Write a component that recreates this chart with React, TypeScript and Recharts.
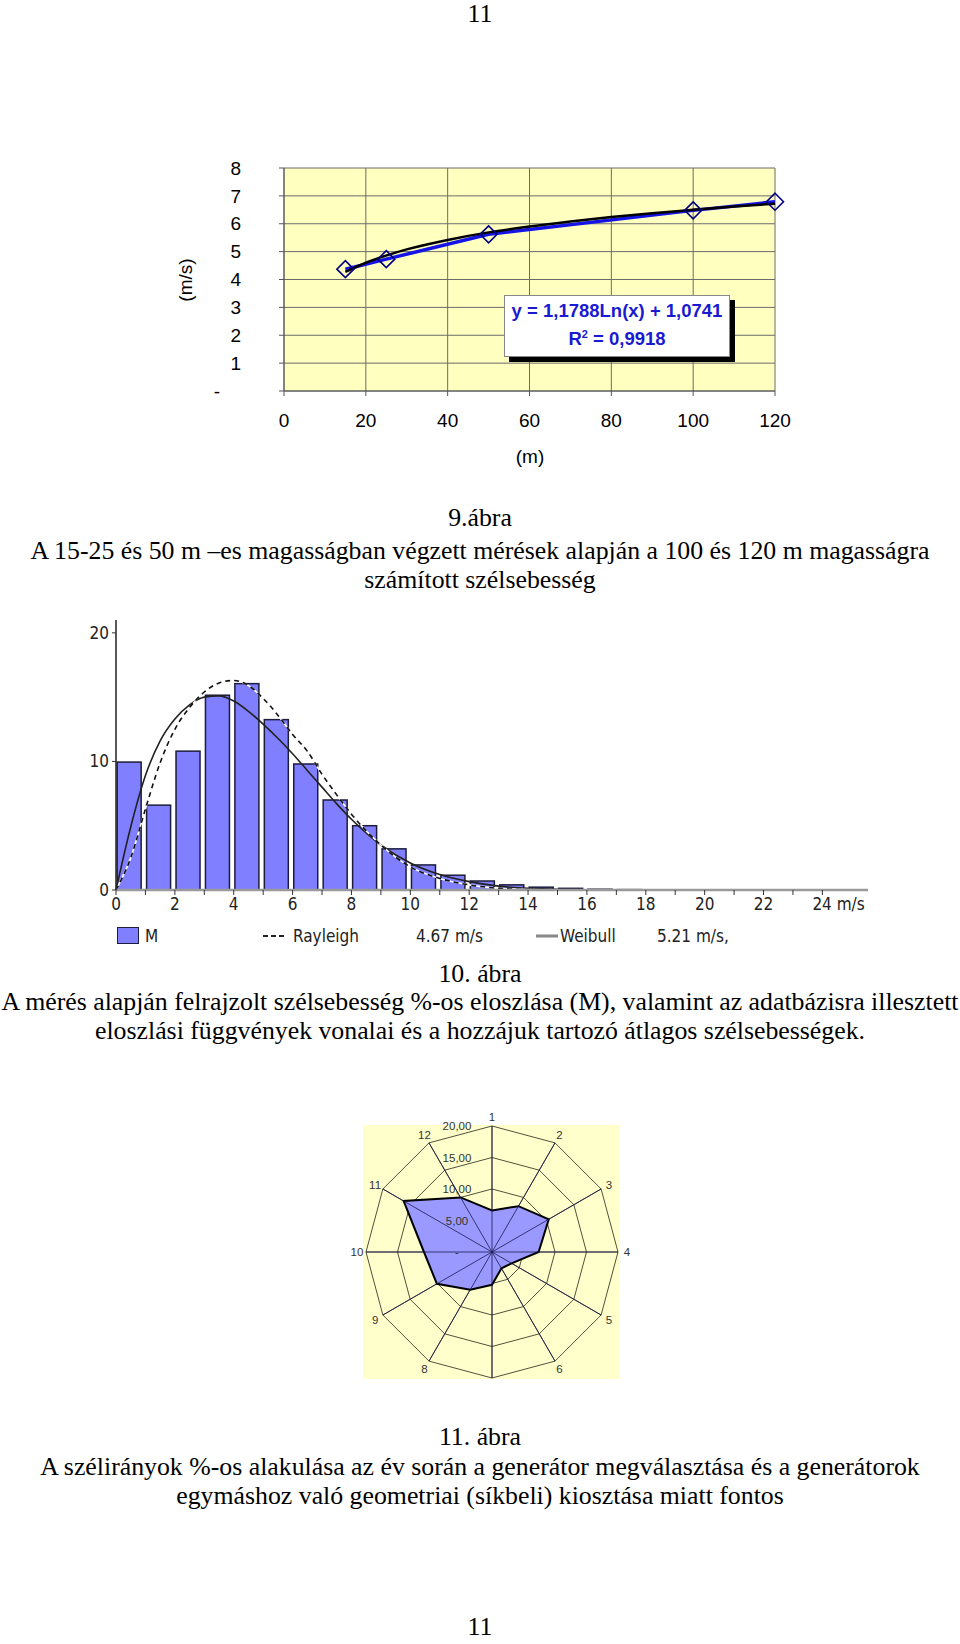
import React from 'react';
import {
  LineChart,
  Line,
  XAxis,
  YAxis,
  CartesianGrid,
  ComposedChart,
  Bar,
  RadarChart,
  Radar,
  PolarGrid,
  PolarAngleAxis,
  PolarRadiusAxis,
} from 'recharts';

// 9. ábra – wind speed vs. height
const heights = [15, 25, 50, 100, 120];
const speeds = [4.37, 4.73, 5.62, 6.48, 6.79];
const trendHeights = [15, 20, 30, 40, 50, 60, 70, 80, 90, 100, 110, 120];
const trendSpeeds = [4.27, 4.6, 5.08, 5.42, 5.69, 5.9, 6.08, 6.24, 6.38, 6.5, 6.62, 6.72];
const heightTicks = [0, 20, 40, 60, 80, 100, 120];
const speedTicks = [0, 1, 2, 3, 4, 5, 6, 7, 8];

// 10. ábra – speed distribution (%)
const binStarts = [0, 1, 2, 3, 4, 5, 6, 7, 8, 9, 10, 11, 12, 13, 14, 15, 16, 17];
const measuredShare = [9.95, 6.6, 10.8, 15.15, 16.05, 13.25, 9.8, 7.0, 5.0, 3.2, 1.95, 1.15, 0.7, 0.4, 0.22, 0.13, 0.06, 0.03];
const curveSpeeds = [0, 0.5, 1, 1.5, 2, 2.5, 3, 3.5, 4, 4.5, 5, 5.5, 6, 6.5, 7, 7.5, 8, 9, 10, 11, 12, 13, 14, 15, 16, 18, 20, 22, 24];
const rayleighShare = [0, 2.5, 6.3, 9.9, 12.5, 14.2, 15.4, 16.1, 16.3, 15.9, 14.9, 13.6, 12.1, 10.8, 9.0, 7.4, 5.9, 3.5, 1.8, 0.9, 0.4, 0.13, 0.03, 0, 0, 0, 0, 0, 0];
const weibullShare = [0, 4.9, 8.9, 11.6, 13.3, 14.4, 15.0, 15.1, 14.7, 13.9, 12.9, 11.8, 10.6, 9.3, 8.0, 6.7, 5.5, 3.5, 2.1, 1.2, 0.65, 0.3, 0.13, 0.05, 0.02, 0, 0, 0, 0];
const distXTicks = [0, 1, 2, 3, 4, 5, 6, 7, 8, 9, 10, 11, 12, 13, 14, 15, 16, 17, 18, 19, 20, 21, 22, 23, 24];
const distYTicks = [0, 10, 20];

// 11. ábra – wind direction share (%)
const directions = ['1', '2', '3', '4', '5', '6', '7', '8', '9', '10', '11', '12'];
const directionShare = [6.6, 8.4, 10.4, 7.4, 3.6, 3.0, 5.2, 6.9, 10.1, 10.8, 16.2, 10.0];

const SANS = '"Liberation Sans", Arial, sans-serif';
const NARROW = '"Liberation Sans Narrow", "DejaVu Sans Condensed", "Liberation Sans", sans-serif';
const SERIF = '"Liberation Serif", "Times New Roman", serif';

const measured = heights.map((x, i) => ({ x, y: speeds[i] }));
const trend = trendHeights.map((x, i) => ({ x, y: trendSpeeds[i] }));

const distBars = binStarts.map((s, i) => ({ x: s + 0.45, share: measuredShare[i] }));
const rayleighCurve = curveSpeeds.map((x, i) => ({ x, y: rayleighShare[i] }));
const weibullCurve = curveSpeeds.map((x, i) => ({ x, y: weibullShare[i] }));

const windRose = directions.map((dir, i) => ({ dir, share: directionShare[i] }));

const Diamond = (props: any) => {
  const { cx, cy, index } = props;
  if (cx == null || cy == null) return null;
  const r = 8.5;
  return (
    <path
      key={`dia-${index}`}
      d={`M${cx},${cy - r}L${cx + r},${cy}L${cx},${cy + r}L${cx - r},${cy}Z`}
      fill="none"
      stroke="#000080"
      strokeWidth={1.6}
    />
  );
};

// bar drawn 24px wide around the bin centre given by the scale
const BinBar = (props: any) => {
  const { x, y, width, height } = props;
  if (height == null || height <= 0) return <g />;
  const c = x + width / 2;
  return <rect x={c - 12} y={y} width={24} height={height} fill="#7F7FFF" stroke="#1c1c3c" strokeWidth={1.5} />;
};

const SpeedTick = (props: any) => {
  const { x, y, payload } = props;
  const v = payload.value;
  return (
    <text x={v === 0 ? x - 21 : x} y={y} dy="0.35em" textAnchor="end" fontSize={19} fontFamily={SANS} fill="#000">
      {v === 0 ? '-' : v}
    </text>
  );
};

const DistTick = (props: any) => {
  const { x, y, payload } = props;
  const v = payload.value;
  if (v % 2 !== 0) return <g />;
  if (v === 24) {
    return (
      <text x={x - 10} y={y} dy="0.71em" textAnchor="start" fontSize={17} fontFamily={NARROW} fill="#222">
        24 m/s
      </text>
    );
  }
  return (
    <text x={x} y={y} dy="0.71em" textAnchor="middle" fontSize={17} fontFamily={NARROW} fill="#222">
      {v}
    </text>
  );
};

const RadiusTick = (props: any) => {
  const { x, y, payload } = props;
  const v = payload.value;
  const label = v === 0 ? '-' : v.toFixed(2).replace('.', ',');
  return (
    <text x={x - 35} y={y} dy="0.35em" textAnchor="middle" fontSize={11.5} fontFamily={SANS} fill="#333">
      {label}
    </text>
  );
};

const DirTick = (props: any) => {
  const { x, y, payload } = props;
  // direction 7 has no label in the original figure
  if (payload.value === '7') return <g />;
  const cx = props.cx ?? 150;
  const cy = props.cy ?? 150;
  const dx = x - cx;
  const dy = y - cy;
  const d = Math.hypot(dx, dy) || 1;
  const r = 135;
  return (
    <text x={cx + (dx / d) * r} y={cy + (dy / d) * r} dy="0.35em" textAnchor="middle" fontSize={11.5} fontFamily={SANS} fill="#333">
      {payload.value}
    </text>
  );
};

const Caption = ({ center, children }: { center: number; children: React.ReactNode }) => (
  <div
    style={{
      position: 'absolute',
      left: 0,
      width: 960,
      top: center - 7.8,
      textAlign: 'center',
      fontFamily: SERIF,
      fontSize: 25.8,
      lineHeight: '22px',
      whiteSpace: 'nowrap',
      color: '#000',
    }}
  >
    {children}
  </div>
);

const abs = (left: number, top: number): React.CSSProperties => ({ position: 'absolute', left, top });

export default function App() {
  return (
    <div style={{ position: 'absolute', left: 0, top: 0, width: 960, height: 1644, background: '#fff', overflow: 'hidden' }}>
      <Caption center={10.5}>11</Caption>

      {/* 9. ábra */}
      <div style={abs(170, 150)}>
        <LineChart width={640} height={340} margin={{ top: 18, right: 35, bottom: 39, left: 0 }}>
          <CartesianGrid fill="#FFFFC0" fillOpacity={1} stroke="#6b6b6b" strokeWidth={1} />
          <XAxis
            type="number"
            dataKey="x"
            domain={[0, 120]}
            ticks={heightTicks}
            height={60}
            tickSize={5}
            tickMargin={18}
            stroke="#555"
            tick={{ fill: '#000', fontSize: 19, fontFamily: SANS }}
          />
          <YAxis type="number" domain={[0, 8]} ticks={speedTicks} width={114} tickSize={5} tickMargin={38} stroke="#555" tick={<SpeedTick />} />
          <Line data={measured} dataKey="y" stroke="#1414E6" strokeWidth={3.5} dot={false} isAnimationActive={false} />
          <Line data={trend} dataKey="y" type="monotone" stroke="#000" strokeWidth={2.5} dot={false} isAnimationActive={false} />
          <Line data={measured} dataKey="y" stroke="none" dot={<Diamond />} activeDot={false} isAnimationActive={false} />
        </LineChart>
      </div>
      <div
        style={{
          position: 'absolute',
          left: 186,
          top: 280,
          transform: 'translate(-50%, -50%) rotate(-90deg)',
          fontFamily: SANS,
          fontSize: 19,
          whiteSpace: 'nowrap',
        }}
      >
        (m/s)
      </div>
      <div style={{ position: 'absolute', left: 530, top: 457, transform: 'translate(-50%, -50%)', fontFamily: SANS, fontSize: 19 }}>(m)</div>
      <div
        style={{
          position: 'absolute',
          left: 504,
          top: 295,
          width: 226,
          height: 62,
          background: '#fff',
          border: '1px solid #888',
          boxShadow: '5px 5px 0 #000',
          textAlign: 'center',
          fontFamily: SANS,
          fontSize: 18.5,
          fontWeight: 'bold',
          color: '#1a1ad0',
          lineHeight: '28px',
          paddingTop: 1,
          boxSizing: 'border-box',
        }}
      >
        <div>y = 1,1788Ln(x) + 1,0741</div>
        <div>
          R<sup style={{ fontSize: 11, lineHeight: 0 }}>2</sup> = 0,9918
        </div>
      </div>

      <Caption center={514.6}>9.ábra</Caption>
      <Caption center={548}>A 15-25 és 50 m –es magasságban végzett mérések alapján a 100 és 120 m magasságra</Caption>
      <Caption center={576.4}>számított szélsebesség</Caption>

      {/* 10. ábra */}
      <div style={abs(80, 600)}>
        <ComposedChart width={800} height={340} data={distBars} margin={{ top: 20, right: 12, bottom: 20, left: 0 }}>
          <XAxis
            type="number"
            dataKey="x"
            domain={[0, 25.55]}
            ticks={distXTicks}
            interval={0}
            height={30}
            tickSize={5}
            tickMargin={3}
            axisLine={{ stroke: '#9a9a9a', strokeWidth: 2.5 }}
            tickLine={{ stroke: '#333' }}
            tick={<DistTick />}
          />
          <YAxis
            type="number"
            domain={[0, 21]}
            ticks={distYTicks}
            width={36}
            tickSize={4}
            tickMargin={3}
            axisLine={{ stroke: '#222', strokeWidth: 1.5 }}
            tickLine={{ stroke: '#333' }}
            tick={{ fill: '#222', fontSize: 17, fontFamily: NARROW }}
          />
          <Bar dataKey="share" shape={<BinBar />} isAnimationActive={false} />
          <Line data={weibullCurve} dataKey="y" type="monotone" stroke="#222" strokeWidth={1.6} dot={false} activeDot={false} isAnimationActive={false} />
          <Line data={rayleighCurve} dataKey="y" type="monotone" stroke="#fff" strokeWidth={1.6} dot={false} activeDot={false} isAnimationActive={false} />
          <Line
            data={rayleighCurve}
            dataKey="y"
            type="monotone"
            stroke="#111"
            strokeWidth={1.6}
            strokeDasharray="5 4"
            dot={false}
            activeDot={false}
            isAnimationActive={false}
          />
        </ComposedChart>
      </div>
      {/* legend of 10. ábra */}
      <div style={{ position: 'absolute', left: 117, top: 927, width: 20, height: 15, background: '#7F7FFF', border: '1px solid #1c1c3c' }} />
      <svg style={{ position: 'absolute', left: 262, top: 930 }} width={26} height={12}>
        <line x1={1} y1={6} x2={25} y2={6} stroke="#222" strokeWidth={2} strokeDasharray="5 3" />
      </svg>
      <svg style={{ position: 'absolute', left: 535, top: 930 }} width={24} height={12}>
        <line x1={1} y1={6} x2={23} y2={6} stroke="#888" strokeWidth={3} />
      </svg>
      {[
        { x: 145, t: 'M' },
        { x: 293, t: 'Rayleigh' },
        { x: 416, t: '4.67 m/s' },
        { x: 560, t: 'Weibull' },
        { x: 657, t: '5.21 m/s,' },
      ].map((l) => (
        <div
          key={l.t}
          style={{ position: 'absolute', left: l.x, top: 936, transform: 'translateY(-50%)', fontFamily: NARROW, fontSize: 17, color: '#222', whiteSpace: 'nowrap' }}
        >
          {l.t}
        </div>
      ))}

      <Caption center={970.7}>10. ábra</Caption>
      <Caption center={999}>A mérés alapján felrajzolt szélsebesség %-os eloszlása (M), valamint az adatbázisra illesztett</Caption>
      <Caption center={1028.2}>eloszlási függvények vonalai és a hozzájuk tartozó átlagos szélsebességek.</Caption>

      {/* 11. ábra */}
      <div style={{ position: 'absolute', left: 363, top: 1125, width: 256, height: 254, background: '#FFFFCC' }} />
      <div style={abs(341.5, 1102)}>
        <RadarChart width={300} height={300} data={windRose} outerRadius={126} margin={{ top: 0, right: 0, bottom: 0, left: 0 }}>
          <PolarGrid gridType="polygon" stroke="#3d3d30" strokeWidth={0.9} />
          <PolarAngleAxis dataKey="dir" tick={<DirTick />} tickLine={false} axisLine={false} />
          <PolarRadiusAxis angle={90} domain={[0, 20]} tickCount={5} axisLine={false} tick={<RadiusTick />} />
          <Radar dataKey="share" stroke="#000" strokeWidth={2} fill="#9999FF" fillOpacity={1} isAnimationActive={false} />
          <PolarGrid gridType="polygon" polarRadius={[]} stroke="#1a1a50" strokeWidth={0.8} zIndex={1000} />
        </RadarChart>
      </div>

      <Caption center={1434}>11. ábra</Caption>
      <Caption center={1463.4}>A szélirányok %-os alakulása az év során a generátor megválasztása és a generátorok</Caption>
      <Caption center={1492.6}>egymáshoz való geometriai (síkbeli) kiosztása miatt fontos</Caption>

      <Caption center={1624}>11</Caption>
    </div>
  );
}
